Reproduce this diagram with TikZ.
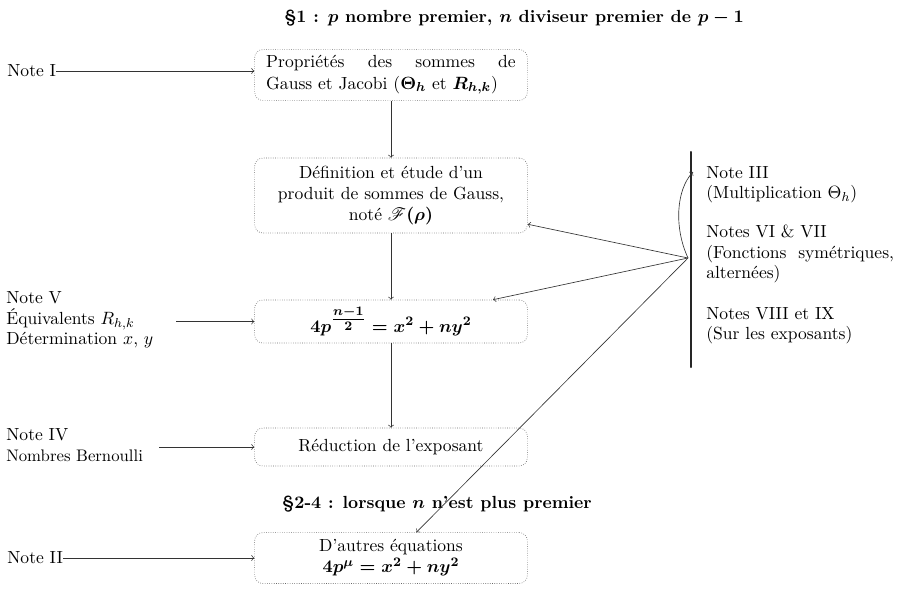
\documentclass[tikz,border=0pt]{standalone}
\usepackage{amsmath}
\usepackage{mathrsfs}
\usetikzlibrary{arrows, positioning, calc}

\newcommand{\gras}[1]{{\boldmath$#1$}}
\newcommand{\taille}{\fontsize{10.8}{13}\selectfont}

\begin{document}
\begin{tikzpicture}[
	x=0.02163cm, y=-0.02163cm,
	etape/.style={rectangle, rounded corners=5pt, draw=black!60, densely dotted, minimum width=5.9cm, align=center, font=\taille},
	note/.style={align=left, inner sep=0pt, font=\fontsize{10.8}{12.6}\selectfont},
	arrow/.style={->, >=to, black!80, thin},
	titre/.style={font=\taille\bfseries}
	]
	\useasboundingbox (0,0) rectangle (899,615);

	% titres
	\node (titre1) [titre] at (514,18) {\S1 : \gras{p} nombre premier, \gras{n} diviseur premier de \gras{p-1}};
	\node (titre2) [titre] at (437,504) {\S2-4 : lorsque \gras{n} n'est plus premier};

	% colonne centrale
	\node (gauss) [etape, minimum height=1.1cm, text width=5.4cm] at (391,75) {Propriétés\hfill des\hfill sommes\hfill de\\ Gauss et Jacobi (\gras{\Theta_h} et \gras{R_{h,k}})\hfill\null};
	\node (produit) [etape, minimum height=1.62cm] at (391,195.5) {Définition et étude d'un\\ produit de sommes de Gauss,\\ noté \gras{\mathscr{F}(\rho)}};
	\node (equation) [etape, minimum height=0.93cm] at (391,321.5) {\gras{4p^{\tfrac{n-1}{2}} = x^2+ny^2}};
	\node (reduction) [etape, minimum height=0.82cm] at (391,447) {Réduction de l'exposant};
	\node (autres) [etape, minimum height=1.1cm] at (391,558) {D'autres équations\\ \gras{4p^{\mu} = x^2+ny^2}};

	% notes a gauche
	\node (noteI) [note, anchor=west] at (7,71) {Note I};
	\node (noteV) [note, anchor=west] at (6,320) {Note V\\ Équivalents $R_{h,k}$\\ Détermination $x$, $y$};
	\node (noteIV) [note, anchor=west] at (6,445) {Note IV\\ {\fontsize{10.3}{12}\selectfont Nombres Bernoulli}};
	\node (noteII) [note, anchor=west] at (7,558) {Note II};

	% notes a droite
	\coordinate (hautbarre) at (691,152);
	\coordinate (basbarre) at (691,367);
	\coordinate (pivot) at (688,258);
	\coordinate (pointeIII) at (693,172);
	\node (noteIII) [note, anchor=north west] at (706,166) {Note III\\ (Multiplication $\Theta_h$)};
	\node (notesVI) [note, anchor=north west] at (706,225) {Notes VI \& VII\\ (Fonctions\ \ symétriques,\\ alternées)};
	\node (notesVIII) [note, anchor=north west] at (706,307) {Notes VIII et IX\\ (Sur les exposants)};
	\draw [line width=1.3pt, black!85, line cap=round] (hautbarre) -- (basbarre);

	% fleches verticales
	\draw [arrow] (gauss) -- (produit);
	\draw [arrow] (produit) -- (equation);
	\draw [arrow] (equation) -- (reduction);

	% fleches des notes
	\draw [arrow] (noteI) -- (gauss.west |- noteI);
	\draw [arrow, shorten <=14pt] (noteV.east |- equation) -- (equation);
	\draw [arrow, shorten <=10pt] (noteIV.east |- reduction) -- (reduction);
	\draw [arrow] (noteII) -- (autres);

	% depuis le pivot
	\draw [arrow] (pivot) -- (produit);
	\draw [arrow] (pivot) -- (equation);
	\draw [arrow] (pivot) -- (autres);
	\draw [arrow] (pivot) .. controls (674,228) and (676,190) .. (pointeIII);

\end{tikzpicture}
\end{document}
